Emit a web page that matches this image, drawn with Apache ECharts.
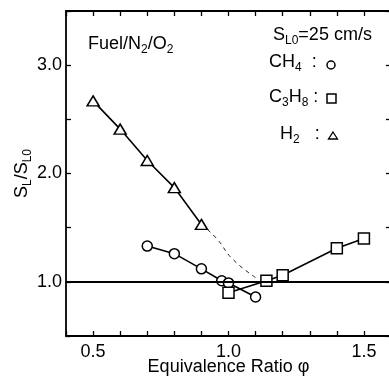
<!DOCTYPE html>
<html>
<head>
<meta charset="UTF-8">
<title>SL/SL0 vs equivalence ratio</title>
<script src="https://cdn.jsdelivr.net/npm/echarts@6/dist/echarts.min.js"></script>
<style>
  html, body { margin: 0; padding: 0; background: #fff; }
  #chart { width: 389px; height: 378px; }
</style>
</head>
<body>
<div id="chart"></div>
<script>
// values
var xTickLabels = ['0.5', '1.0', '1.5'];
var yTickLabels = ['1.0', '2.0', '3.0'];
var h2Data = [[0.5, 2.67], [0.6, 2.41], [0.7, 2.12], [0.8, 1.87], [0.9, 1.53]];
var h2Extension = [[0.9, 1.53], [0.956, 1.40], [1.015, 1.21], [1.1, 1.04]];
var ch4Data = [[0.7, 1.33], [0.8, 1.26], [0.9, 1.12], [0.975, 1.01], [1.0, 0.99], [1.1, 0.86]];
var c3h8Data = [[1.0, 0.90], [1.14, 1.01], [1.2, 1.06], [1.4, 1.31], [1.5, 1.40]];
var refLevel = 1.0;

var FONT = '"Liberation Sans", Arial, sans-serif';
var rich = {
    a: { fontSize: 18, fontFamily: FONT, color: '#000', lineHeight: 24 },
    s: { fontSize: 12, fontFamily: FONT, color: '#000', lineHeight: 12, verticalAlign: 'bottom' }
};

function pick(list) {
    return function (v) {
        var t = (Math.round(v * 10) / 10).toFixed(1);
        return list.indexOf(t) >= 0 ? t : '';
    };
}

var chart = echarts.init(document.getElementById('chart'));

var frameAxis = {
    axisLine: { show: true, lineStyle: { color: '#000', width: 1.8 } },
    axisTick: { show: true, inside: true, length: 5, lineStyle: { color: '#000', width: 1.3 } },
    splitLine: { show: false }
};

var option = {
    backgroundColor: '#fff',
    animation: false,
    grid: { left: 66, top: 11, width: 325, height: 325, outerBoundsMode: 'none', containLabel: false },
    xAxis: [
        Object.assign({
            type: 'value', min: 0.4, max: 1.6, interval: 0.1, position: 'bottom',
            axisLabel: { formatter: pick(xTickLabels), margin: 7, fontSize: 18, fontFamily: FONT, color: '#000' },
            name: 'Equivalence Ratio φ', nameLocation: 'middle', nameGap: 22, nameMoveOverlap: false,
            nameTextStyle: { fontSize: 18, fontFamily: FONT, color: '#000' }
        }, frameAxis),
        Object.assign({
            type: 'value', min: 0.4, max: 1.6, interval: 0.1, position: 'top',
            axisLabel: { show: false }
        }, frameAxis)
    ],
    yAxis: [
        Object.assign({
            type: 'value', min: 0.5, max: 3.5, interval: 0.5, position: 'left',
            axisLabel: { formatter: pick(yTickLabels), margin: 4, fontSize: 18, fontFamily: FONT, color: '#000' },
            name: '{a|S}{s|L}{a|/S}{s|L0}', nameLocation: 'middle', nameGap: 32, nameMoveOverlap: false,
            nameTextStyle: { rich: rich }
        }, frameAxis),
        Object.assign({
            type: 'value', min: 0.5, max: 3.5, interval: 0.5, position: 'right',
            axisLabel: { show: false }
        }, frameAxis)
    ],
    graphic: [
        { type: 'text', left: 88, top: 35, style: { text: '{a|Fuel/N}{s|2}{a|/O}{s|2}', rich: rich } },
        { type: 'text', left: 273, top: 26, style: { text: '{a|S}{s|L0}{a|=25 cm/s}', rich: rich } },
        { type: 'text', left: 269, top: 53, style: { text: '{a|CH}{s|4}{a|  :}', rich: rich } },
        { type: 'circle', shape: { cx: 331, cy: 65, r: 4 }, style: { fill: '#fff', stroke: '#000', lineWidth: 1.5 } },
        { type: 'text', left: 269, top: 88, style: { text: '{a|C}{s|3}{a|H}{s|8}{a| :}', rich: rich } },
        { type: 'rect', shape: { x: 327, y: 94, width: 9, height: 9 }, style: { fill: '#fff', stroke: '#000', lineWidth: 1.5 } },
        { type: 'text', left: 280, top: 125, style: { text: '{a|H}{s|2}{a|   :}', rich: rich } },
        { type: 'polygon', shape: { points: [[333, 132], [337.5, 139], [328.5, 139]] }, style: { fill: '#fff', stroke: '#000', lineWidth: 1.3 } }
    ],
    series: [
        {
            name: 'H2 dashed', type: 'line', data: h2Extension, smooth: true, showSymbol: false,
            lineStyle: { color: '#222', width: 1, type: [4, 4] }, z: 1
        },
        {
            name: 'H2', type: 'line', data: h2Data, symbol: 'triangle', symbolSize: [12, 10],
            lineStyle: { color: '#000', width: 1.6 },
            itemStyle: { color: '#fff', borderColor: '#000', borderWidth: 1.5 }, z: 3
        },
        {
            name: 'CH4', type: 'line', data: ch4Data, symbol: 'circle', symbolSize: 10,
            lineStyle: { color: '#000', width: 1.6 },
            itemStyle: { color: '#fff', borderColor: '#000', borderWidth: 1.5 }, z: 3,
            markLine: {
                silent: true, symbol: 'none', label: { show: false },
                lineStyle: { color: '#000', width: 2, type: 'solid' },
                data: [{ yAxis: refLevel }]
            }
        },
        {
            name: 'C3H8', type: 'line', data: c3h8Data, symbol: 'rect', symbolSize: 11,
            lineStyle: { color: '#000', width: 1.6 },
            itemStyle: { color: '#fff', borderColor: '#000', borderWidth: 1.5 }, z: 4
        }
    ]
};

chart.setOption(option);
</script>
</body>
</html>
